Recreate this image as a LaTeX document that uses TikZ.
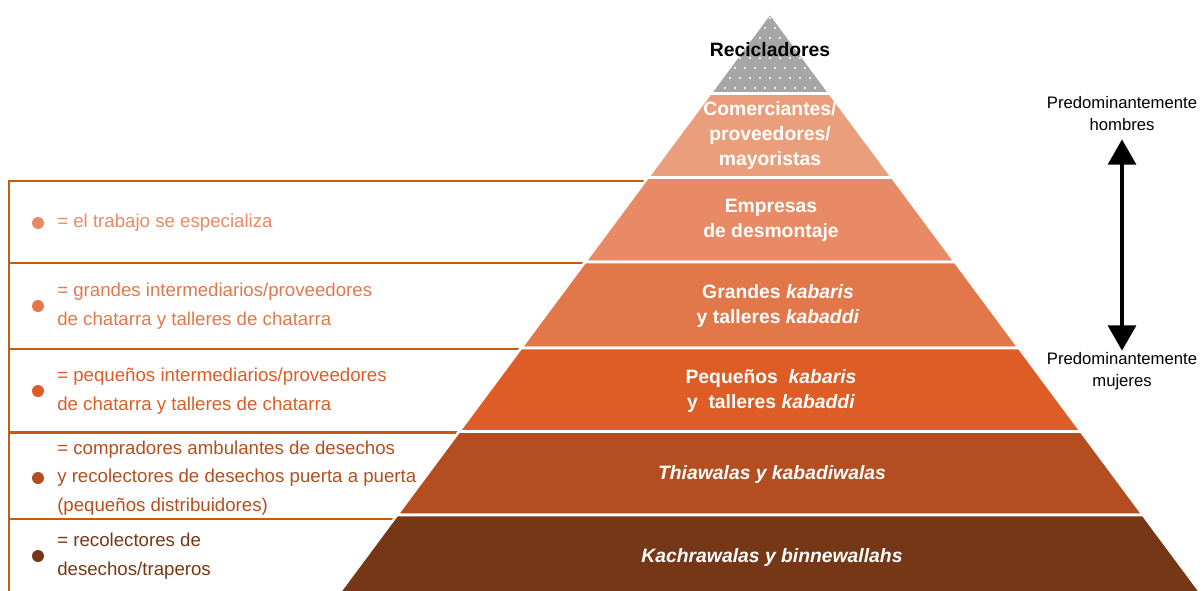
\documentclass[tikz,border=0pt]{standalone}
\usepackage{fontspec}
\setmainfont{Liberation Sans}
\usetikzlibrary{arrows.meta,math}

\definecolor{gris}{HTML}{A6A6A6}
\definecolor{nivelB}{HTML}{EA9E7C}
\definecolor{nivelC}{HTML}{E88A66}
\definecolor{nivelD}{HTML}{E2784A}
\definecolor{nivelE}{HTML}{DE5C25}
\definecolor{nivelF}{HTML}{B44E20}
\definecolor{nivelG}{HTML}{763716}
\definecolor{raya}{HTML}{C55A11}

\tikzset{
  nivel/.style={fill=#1, draw=white, line width=1.9pt},
  rotulo/.style={text=white, font=\fontsize{14.5}{18.75}\selectfont\bfseries, align=center, inner sep=0pt},
  leyenda/.style={text=#1, anchor=west, inner sep=0pt, align=left, font=\fontsize{14}{21.4}\selectfont},
  punto/.style={circle, fill=#1, inner sep=0pt, minimum size=9pt},
  lado/.style={font=\fontsize{12.5}{16.5}\selectfont, align=center, inner sep=0pt},
  flecha/.style={line width=2.6pt, {Triangle[width=21pt,length=19pt]}-{Triangle[width=21pt,length=19pt]}}
}

\begin{document}
\begin{tikzpicture}[x=0.75pt, y=-0.75pt]
	\useasboundingbox (0,0) rectangle (1202,590);

	% lineas de la leyenda
	\draw[raya, line width=1.6pt] (645,181) -- (9,181) -- (9,600);
	\foreach \h in {263,349,432.5,519} {
		\pgfmathsetmacro\xe{770-0.743*(\h-13)}
		\draw[raya, line width=1.6pt] (9,\h) -- (\xe,\h);
	}

	% punta gris con puntos
	\begin{scope}
		\clip (770,13) -- (829.8,93.5) -- (710.2,93.5) -- cycle;
		\fill[gris] (700,10) rectangle (840,95);
		\foreach \j [evaluate=\j as \off using {5*mod(\j,2)}] in {0,...,8}
			\foreach \i in {0,...,14}
				\fill[white] (700+10*\i+\off,18+10*\j) circle (0.8pt);
	\end{scope}
	\draw[white, line width=1.9pt] (770,13) -- (829.8,93.5) -- (710.2,93.5) -- cycle;

	% niveles de la piramide
	\foreach \t/\b/\c in {93.5/177.5/nivelB, 177.5/262/nivelC, 262/348/nivelD,
		348/431.5/nivelE, 431.5/515/nivelF, 515/600/nivelG} {
		\pgfmathsetmacro\lt{770-0.743*(\t-13)}
		\pgfmathsetmacro\lb{770-0.743*(\b-13)}
		\filldraw[nivel=\c] (\lt,\t) -- (1540-\lt,\t) -- (1540-\lb,\b) -- (\lb,\b) -- cycle;
	}

	\node[rotulo, text=black] (reci) at (770,50) {Recicladores};
	\node[rotulo] (come) at (770,135) {Comerciantes/\\proveedores/\\mayoristas};
	\node[rotulo] (empr) at (771,220) {Empresas\\de desmontaje};
	\node[rotulo] (gran) at (778,306) {Grandes \textit{kabaris}\\y talleres \textit{kabaddi}};
	\node[rotulo] (pequ) at (771,391) {Pequeños \ \textit{kabaris}\\y \ talleres \textit{kabaddi}};
	\node[rotulo] (thia) at (772,474) {\textit{Thiawalas y kabadiwalas}};
	\node[rotulo] (kach) at (772,557) {\textit{Kachrawalas y binnewallahs}};

	% leyenda
	\node[punto=nivelC] (p1) at (38,223) {};
	\node[leyenda=nivelC] (l1) at (57,223) {= el trabajo se especializa};
	\node[punto=nivelD] (p2) at (38,306) {};
	\node[leyenda=nivelD] (l2) at (57,306) {= grandes intermediarios/proveedores\\de chatarra y talleres de chatarra};
	\node[punto=nivelE] (p3) at (38,391) {};
	\node[leyenda=nivelE] (l3) at (57,391) {= pequeños intermediarios/proveedores\\de chatarra y talleres de chatarra};
	\node[punto=nivelF] (p4) at (38,478) {};
	\node[leyenda=nivelF] (l4) at (57,478) {= compradores ambulantes de desechos\\y recolectores de desechos puerta a puerta\\(pequeños distribuidores)};
	\node[punto=nivelG] (p5) at (38,556) {};
	\node[leyenda=nivelG] (l5) at (57,556) {= recolectores de\\desechos/traperos};

	% hombres / mujeres
	\node[lado] (homb) at (1122,114) {Predominantemente\\hombres};
	\node[lado] (muje) at (1122,371) {Predominantemente\\mujeres};
	\draw[flecha] ([yshift=-6pt]homb.south) -- ([yshift=1pt]muje.north);
\end{tikzpicture}
\end{document}
